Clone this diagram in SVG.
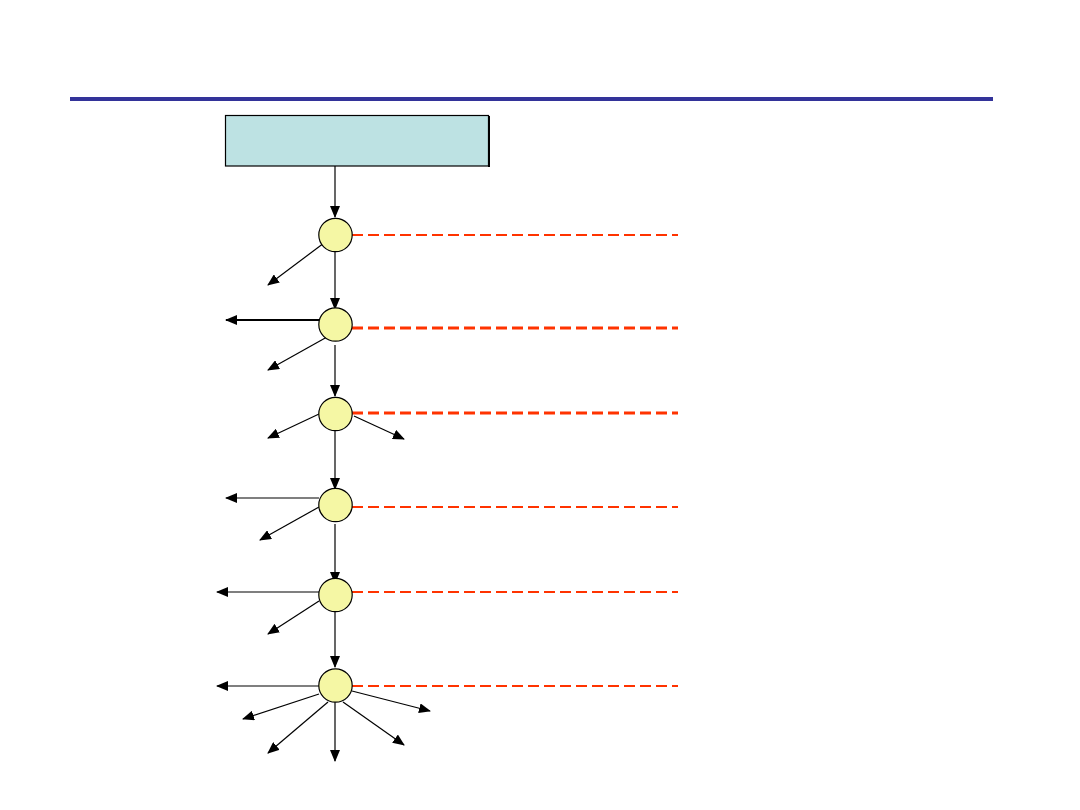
<svg xmlns="http://www.w3.org/2000/svg" width="1080" height="810" viewBox="0 0 1080 810">
<defs>
<marker id="ah" markerUnits="userSpaceOnUse" markerWidth="12" markerHeight="10" viewBox="0 0 12 10" refX="11" refY="5" orient="auto">
<path d="M0,0 L12,5 L0,10 Z" fill="#000"/>
</marker>
<style>
.c{stroke:#000;stroke-width:1.2;fill:none;marker-end:url(#ah)}
.d{stroke:#ff3300;stroke-width:2.2;stroke-dasharray:11 5;fill:none}
.d3{stroke-width:3}
.n{fill:#f5f7a4;stroke:#000;stroke-width:1.2}
</style>
</defs>
<rect width="1080" height="810" fill="#fff"/>
<line x1="70" y1="99" x2="993" y2="99" stroke="#333399" stroke-width="4"/>
<g id="box">
<rect x="225.5" y="115.5" width="263" height="50.5" fill="#bde2e3" stroke="#000" stroke-width="1.2"/>
<line x1="489" y1="116" x2="489" y2="167" stroke="#000" stroke-width="2"/>
</g>
<g id="connectors">
<line class="c" x1="335" y1="166" x2="335" y2="217"/>
<line class="c" x1="324" y1="243" x2="268" y2="285"/>
<line class="c" x1="335" y1="252" x2="335" y2="309"/>
<line class="c" x1="319" y1="320" x2="226" y2="320" style="stroke-width:2"/>
<line class="c" x1="327" y1="337" x2="268" y2="370"/>
<line class="c" x1="335" y1="345" x2="335" y2="396"/>
<line class="c" x1="319" y1="414" x2="268" y2="438"/>
<line class="c" x1="354" y1="416" x2="404" y2="439"/>
<line class="c" x1="335" y1="431" x2="335" y2="489"/>
<line class="c" x1="319" y1="498" x2="226" y2="498"/>
<line class="c" x1="319" y1="507" x2="260" y2="540"/>
<line class="c" x1="335" y1="524" x2="335" y2="583"/>
<line class="c" x1="319" y1="592" x2="217" y2="592"/>
<line class="c" x1="319" y1="601" x2="268" y2="634"/>
<line class="c" x1="335" y1="612" x2="335" y2="667"/>
<line class="c" x1="319" y1="686" x2="217" y2="686"/>
<line class="c" x1="319" y1="694" x2="243" y2="719"/>
<line class="c" x1="328" y1="702" x2="268" y2="753"/>
<line class="c" x1="335" y1="702" x2="335" y2="761"/>
<line class="c" x1="343" y1="702" x2="404" y2="745"/>
<line class="c" x1="352" y1="691" x2="430" y2="711"/>
<line class="d" x1="352" y1="235" x2="678" y2="235"/>
<line class="d d3" x1="352" y1="328" x2="678" y2="328"/>
<line class="d d3" x1="352" y1="413" x2="678" y2="413"/>
<line class="d" x1="352" y1="507" x2="678" y2="507"/>
<line class="d" x1="352" y1="592" x2="678" y2="592"/>
<line class="d" x1="352" y1="686" x2="678" y2="686"/>
</g>
<g id="n1"><circle class="n" cx="335.5" cy="235" r="16.7"/></g>
<g id="n2"><circle class="n" cx="335.5" cy="324.5" r="16.7"/></g>
<g id="n3"><circle class="n" cx="335.5" cy="414" r="16.7"/></g>
<g id="n4"><circle class="n" cx="335.5" cy="505" r="16.7"/></g>
<g id="n5"><circle class="n" cx="335.5" cy="595" r="16.7"/></g>
<g id="n6"><circle class="n" cx="335.5" cy="685.5" r="16.7"/></g>
</svg>
